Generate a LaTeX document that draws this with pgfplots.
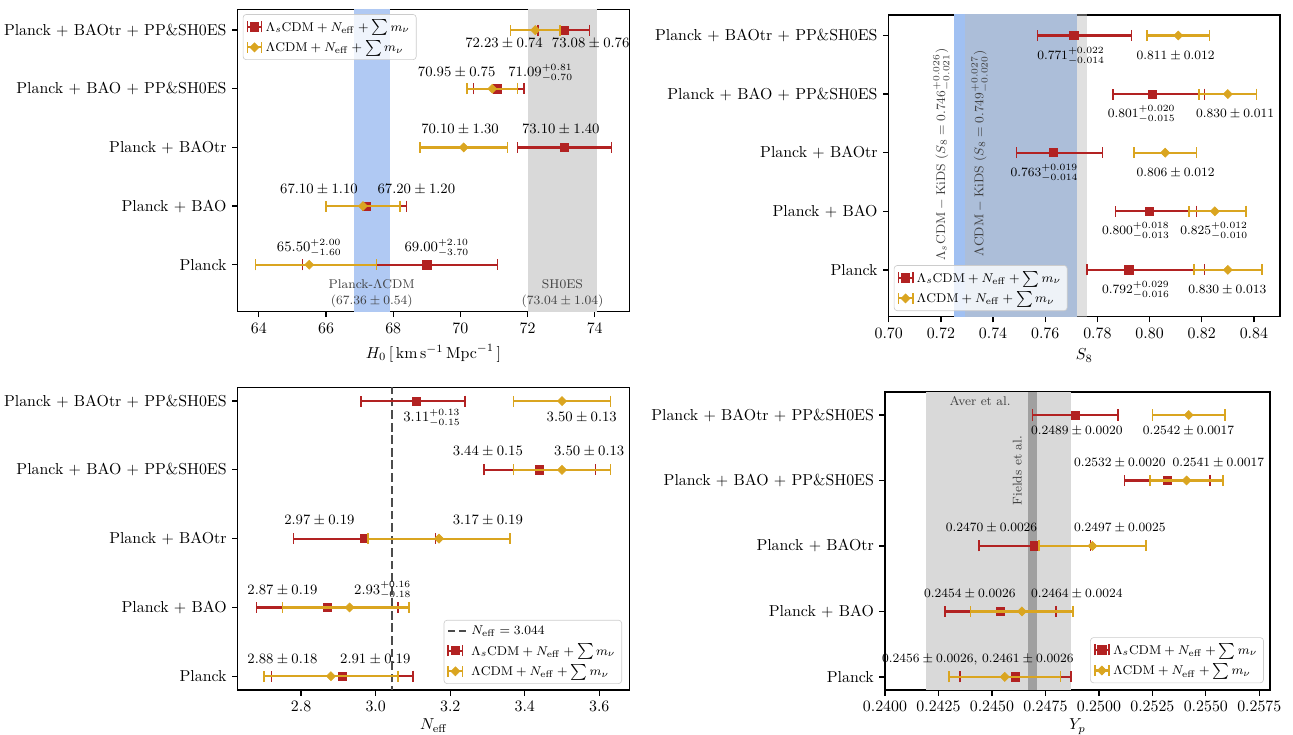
\documentclass[border=0pt]{standalone}
\usepackage{pgfplots}
\pgfplotsset{compat=1.18}
\definecolor{cred}{RGB}{178,34,34}
\definecolor{cgold}{RGB}{218,165,32}
\definecolor{bblue}{RGB}{176,201,243}
\definecolor{bblue2}{RGB}{160,192,242}
\definecolor{bgray}{RGB}{217,217,217}
\definecolor{bgray2}{RGB}{188,188,188}
\definecolor{fgray}{RGB}{160,160,160}
\definecolor{tgray}{RGB}{64,64,64}

\pgfplotsset{
 base/.style={scale only axis, anchor=south west, clip mode=individual,
   axis line style={line width=0.8pt}, tick style={line width=0.8pt, black},
   tick align=outside, major tick length=3.5pt, xtick pos=bottom, ytick pos=left,
   ytick={0,1,2,3,4},
   yticklabels={Planck, Planck + BAO, Planck + BAOtr, Planck + BAO + PP\&SH0ES, Planck + BAOtr + PP\&SH0ES},
   ticklabel style={font=\fontsize{10}{12}\selectfont},
   label style={font=\fontsize{10}{12}\selectfont},
   scaled x ticks=false,
   legend cell align=left,
   legend style={font=\fontsize{8}{9.6}\selectfont, draw=black!20, rounded corners=2pt, fill=white, fill opacity=0.8, text opacity=1, draw opacity=1, inner xsep=2pt, inner ysep=1.5pt, row sep=0.5pt},
 },
 errlegend/.style={legend image code/.code={
   \draw[line width=1.4pt, fill opacity=1] (0pt,0pt) -- (9pt,0pt);
   \draw[line width=1pt, fill opacity=1] (0pt,-3.5pt) -- (0pt,3.5pt) (9pt,-3.5pt) -- (9pt,3.5pt);
   \draw[fill opacity=1] plot coordinates {(4.5pt,0pt)};
 }},
 errbase/.style={only marks, error bars/.cd, x dir=both, x explicit, error bar style={line width=1.4pt}, error mark options={rotate=90, line width=1pt, mark size=3.5pt}},
 redp/.style={cred, mark=square*, mark size=2.6pt, mark options={line width=0.4pt, fill=cred}, errlegend, errbase},
 goldp/.style={cgold, mark=square*, mark size=2pt, mark options={rotate=45, line width=0.4pt, fill=cgold}, errlegend, errbase},
}
\tikzset{
 l9/.style={font=\fontsize{9}{10}\selectfont, anchor=base, yshift=-2.9pt, inner sep=0pt},
 l8/.style={font=\fontsize{8.3}{9}\selectfont, anchor=base, yshift=-2.7pt, inner sep=0pt},
}

\begin{document}
\begin{tikzpicture}[x=1pt,y=1pt]
\useasboundingbox (0,0) rectangle (814.59,463.05);

% ---------------- Panel 1: H0
\begin{axis}[base, at={(149.75pt,266.7pt)}, width=246.7pt, height=190.3pt,
  xmin=63.37, xmax=75.03, ymin=-0.8, ymax=4.35, xtick={64,66,68,70,72,74},
  xlabel={$H_0\,[\,\mathrm{km}\,\mathrm{s}^{-1}\,\mathrm{Mpc}^{-1}\,]$},
  legend style={at={(0.013,0.985)}, anchor=north west}]
\addplot[draw=none, fill=bblue, forget plot] coordinates {(66.82,-1) (67.90,-1) (67.90,5) (66.82,5)} -- cycle;
\addplot[draw=none, fill=bgray, forget plot] coordinates {(72.00,-1) (74.08,-1) (74.08,5) (72.00,5)} -- cycle;
\addplot[redp] coordinates {
 (69.00,0) += (2.10,0) -= (3.70,0)
 (67.20,1) +- (1.20,0)
 (73.10,2) +- (1.40,0)
 (71.09,3) += (0.81,0) -= (0.70,0)
 (73.08,4) +- (0.76,0)
};
\addlegendentry{$\Lambda_s\mathrm{CDM} + N_\mathrm{eff} + \sum m_\nu$}
\addplot[goldp] coordinates {
 (65.50,0) += (2.00,0) -= (1.60,0)
 (67.10,1) +- (1.10,0)
 (70.10,2) +- (1.30,0)
 (70.95,3) +- (0.75,0)
 (72.23,4) +- (0.74,0)
};
\addlegendentry{$\Lambda\mathrm{CDM} + N_\mathrm{eff} + \sum m_\nu$}
\node[l9] at (axis cs:71.30,3.78) {$72.23\pm0.74$};
\node[l9] at (axis cs:73.88,3.78) {$73.08\pm0.76$};
\node[l9] at (axis cs:69.89,3.29) {$70.95\pm0.75$};
\node[l9] at (axis cs:72.39,3.29) {$71.09^{+0.81}_{-0.70}$};
\node[l9] at (axis cs:69.99,2.31) {$70.10\pm1.30$};
\node[l9] at (axis cs:72.99,2.31) {$73.10\pm1.40$};
\node[l9] at (axis cs:65.79,1.30) {$67.10\pm1.10$};
\node[l9] at (axis cs:68.69,1.30) {$67.20\pm1.20$};
\node[l9] at (axis cs:65.50,0.30) {$65.50^{+2.00}_{-1.60}$};
\node[l9] at (axis cs:69.30,0.30) {$69.00^{+2.10}_{-3.70}$};
\node[l8, text=tgray, font=\fontsize{8}{9}\selectfont] at (axis cs:67.36,-0.33) {Planck-$\Lambda$CDM};
\node[l8, text=tgray, font=\fontsize{8}{9}\selectfont] at (axis cs:67.36,-0.60) {$(67.36\pm0.54)$};
\node[l8, text=tgray, font=\fontsize{8}{9}\selectfont] at (axis cs:73.04,-0.33) {SH0ES};
\node[l8, text=tgray, font=\fontsize{8}{9}\selectfont] at (axis cs:73.04,-0.60) {$(73.04\pm1.04)$};
\end{axis}

% ---------------- Panel 2: S8
\begin{axis}[base, at={(559.9pt,263.5pt)}, width=246.5pt, height=190.1pt,
  xmin=0.70, xmax=0.85, ymin=-0.8, ymax=4.35, xtick={0.70,0.72,0.74,0.76,0.78,0.80,0.82,0.84},
  xticklabel style={/pgf/number format/.cd, fixed, fixed zerofill, precision=2},
  xlabel={$S_8$},
  legend style={at={(0.013,0.019)}, anchor=south west}]
\addplot[draw=none, fill=bblue2, forget plot] coordinates {(0.7252,-1) (0.7722,-1) (0.7722,5) (0.7252,5)} -- cycle;
\addplot[draw=none, fill=bgray2, fill opacity=0.46, forget plot] coordinates {(0.7291,-1) (0.7760,-1) (0.7760,5) (0.7291,5)} -- cycle;
\addplot[redp] coordinates {
 (0.792,0) += (0.029,0) -= (0.016,0)
 (0.800,1) += (0.018,0) -= (0.013,0)
 (0.763,2) += (0.019,0) -= (0.014,0)
 (0.801,3) += (0.020,0) -= (0.015,0)
 (0.771,4) += (0.022,0) -= (0.014,0)
};
\addlegendentry{$\Lambda_s\mathrm{CDM} + N_\mathrm{eff} + \sum m_\nu$}
\addplot[goldp] coordinates {
 (0.830,0) +- (0.013,0)
 (0.825,1) += (0.012,0) -= (0.010,0)
 (0.806,2) +- (0.012,0)
 (0.830,3) +- (0.011,0)
 (0.811,4) +- (0.012,0)
};
\addlegendentry{$\Lambda\mathrm{CDM} + N_\mathrm{eff} + \sum m_\nu$}
\node[l8] at (axis cs:0.7699,3.67) {$0.771^{+0.022}_{-0.014}$};
\node[l8] at (axis cs:0.8100,3.67) {$0.811\pm0.012$};
\node[l8] at (axis cs:0.7970,2.68) {$0.801^{+0.020}_{-0.015}$};
\node[l8] at (axis cs:0.8328,2.68) {$0.830\pm0.011$};
\node[l8] at (axis cs:0.7597,1.67) {$0.763^{+0.019}_{-0.014}$};
\node[l8] at (axis cs:0.8100,1.67) {$0.806\pm0.012$};
\node[l8] at (axis cs:0.7948,0.68) {$0.800^{+0.018}_{-0.013}$};
\node[l8] at (axis cs:0.8248,0.68) {$0.825^{+0.012}_{-0.010}$};
\node[l8] at (axis cs:0.7948,-0.33) {$0.792^{+0.029}_{-0.016}$};
\node[l8] at (axis cs:0.8298,-0.33) {$0.830\pm0.013$};
\node[rotate=90, text=tgray, font=\fontsize{8}{9}\selectfont, inner sep=0pt] at (axis cs:0.7204,1.97) {$\Lambda_s\mathrm{CDM} - \mathrm{KiDS}\ (S_8 = 0.746^{+0.026}_{-0.021})$};
\node[rotate=90, text=tgray, font=\fontsize{8}{9}\selectfont, inner sep=0pt] at (axis cs:0.7351,1.99) {$\Lambda\mathrm{CDM} - \mathrm{KiDS}\ (S_8 = 0.749^{+0.027}_{-0.020})$};
\end{axis}

% ---------------- Panel 3: Neff
\begin{axis}[base, at={(149.8pt,28.35pt)}, width=247pt, height=190.7pt,
  xmin=2.630, xmax=3.682, ymin=-0.2, ymax=4.2, xtick={2.8,3.0,3.2,3.4,3.6},
  xticklabel style={/pgf/number format/.cd, fixed, fixed zerofill, precision=1},
  xlabel={$N_\mathrm{eff}$}, xlabel style={yshift=2pt},
  legend style={at={(0.98,0.02)}, anchor=south east}]
\addplot[black!70, line width=1.2pt, dash pattern=on 5.5pt off 2.4pt,
  legend image code/.code={\draw[line width=1.2pt, dash pattern=on 4pt off 3pt] (0pt,0pt) -- (12pt,0pt);}]
  coordinates {(3.044,-1) (3.044,5)};
\addlegendentry{$N_\mathrm{eff} = 3.044$}
\addplot[redp] coordinates {
 (2.91,0) +- (0.19,0)
 (2.87,1) +- (0.19,0)
 (2.97,2) +- (0.19,0)
 (3.44,3) +- (0.15,0)
 (3.11,4) += (0.13,0) -= (0.15,0)
};
\addlegendentry{$\Lambda_s\mathrm{CDM} + N_\mathrm{eff} + \sum m_\nu$}
\addplot[goldp] coordinates {
 (2.88,0) +- (0.18,0)
 (2.93,1) += (0.16,0) -= (0.18,0)
 (3.17,2) +- (0.19,0)
 (3.50,3) +- (0.13,0)
 (3.50,4) +- (0.13,0)
};
\addlegendentry{$\Lambda\mathrm{CDM} + N_\mathrm{eff} + \sum m_\nu$}
\node[l9] at (axis cs:3.151,3.77) {$3.11^{+0.13}_{-0.15}$};
\node[l9] at (axis cs:3.553,3.77) {$3.50\pm0.13$};
\node[l9] at (axis cs:3.301,3.27) {$3.44\pm0.15$};
\node[l9] at (axis cs:3.573,3.27) {$3.50\pm0.13$};
\node[l9] at (axis cs:2.849,2.27) {$2.97\pm0.19$};
\node[l9] at (axis cs:3.301,2.27) {$3.17\pm0.19$};
\node[l9] at (axis cs:2.750,1.26) {$2.87\pm0.19$};
\node[l9] at (axis cs:3.019,1.26) {$2.93^{+0.16}_{-0.18}$};
\node[l9] at (axis cs:2.750,0.25) {$2.88\pm0.18$};
\node[l9] at (axis cs:2.999,0.25) {$2.91\pm0.19$};
\end{axis}

% ---------------- Panel 4: Yp
\begin{axis}[base, at={(557.55pt,28.35pt)}, width=242.55pt, height=187.7pt,
  xmin=0.2400, xmax=0.2580, ymin=-0.2, ymax=4.35,
  xtick={0.2400,0.2425,0.2450,0.2475,0.2500,0.2525,0.2550,0.2575},
  xticklabel style={/pgf/number format/.cd, fixed, fixed zerofill, precision=4},
  xlabel={$Y_p$}, xlabel style={yshift=2pt},
  legend style={at={(0.984,0.023)}, anchor=south east}]
\addplot[draw=none, fill=bgray, forget plot] coordinates {(0.2419,-1) (0.2487,-1) (0.2487,5) (0.2419,5)} -- cycle;
\addplot[draw=none, fill=fgray, forget plot] coordinates {(0.2467,-1) (0.2471,-1) (0.2471,5) (0.2467,5)} -- cycle;
\addplot[redp] coordinates {
 (0.2461,0) +- (0.0026,0)
 (0.2454,1) +- (0.0026,0)
 (0.2470,2) +- (0.0026,0)
 (0.2532,3) +- (0.0020,0)
 (0.2489,4) +- (0.0020,0)
};
\addlegendentry{$\Lambda_s\mathrm{CDM} + N_\mathrm{eff} + \sum m_\nu$}
\addplot[goldp] coordinates {
 (0.2456,0) +- (0.0026,0)
 (0.2464,1) +- (0.0024,0)
 (0.2497,2) +- (0.0025,0)
 (0.2541,3) +- (0.0017,0)
 (0.2542,4) +- (0.0017,0)
};
\addlegendentry{$\Lambda\mathrm{CDM} + N_\mathrm{eff} + \sum m_\nu$}
\node[l8] at (axis cs:0.24897,3.76) {$0.2489\pm0.0020$};
\node[l8] at (axis cs:0.25419,3.76) {$0.2542\pm0.0017$};
\node[l8] at (axis cs:0.25098,3.28) {$0.2532\pm0.0020$};
\node[l8] at (axis cs:0.25559,3.28) {$0.2541\pm0.0017$};
\node[l8] at (axis cs:0.24498,2.28) {$0.2470\pm0.0026$};
\node[l8] at (axis cs:0.25098,2.28) {$0.2497\pm0.0025$};
\node[l8] at (axis cs:0.24397,1.28) {$0.2454\pm0.0026$};
\node[l8] at (axis cs:0.24897,1.28) {$0.2464\pm0.0024$};
\node[l8] at (axis cs:0.24434,0.29) {$0.2456\pm0.0026$, $0.2461\pm0.0026$};
\node[l8, text=tgray, font=\fontsize{8}{9}\selectfont] at (axis cs:0.24445,4.21) {Aver et al.};
\node[rotate=90, text=tgray, font=\fontsize{8}{9}\selectfont, inner sep=0pt] at (axis cs:0.24618,3.15) {Fields et al.};
\end{axis}
\end{tikzpicture}
\end{document}
